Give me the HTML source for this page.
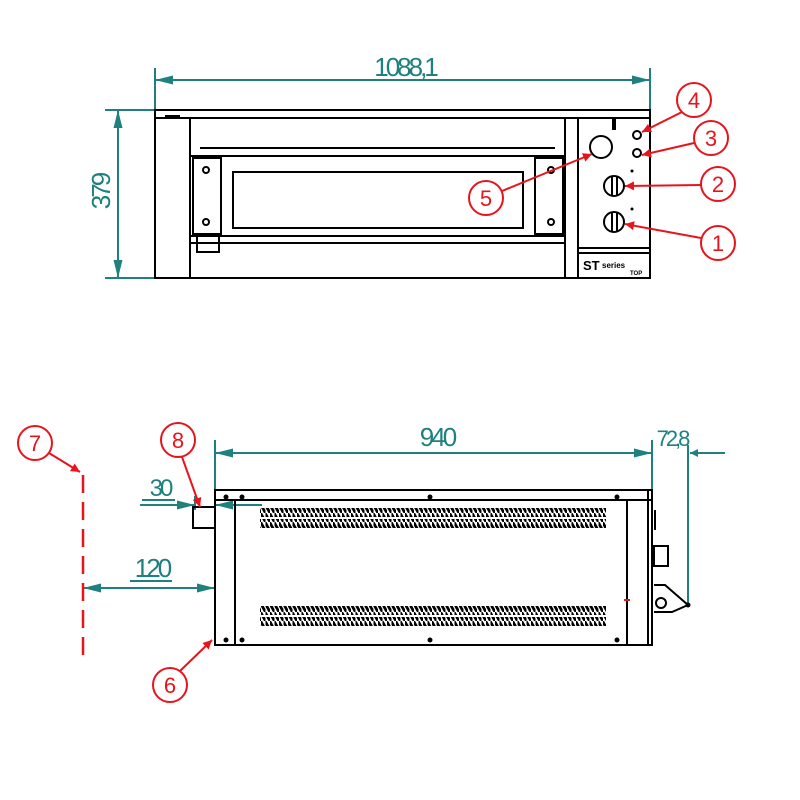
<!DOCTYPE html>
<html><head><meta charset="utf-8"><style>
html,body{margin:0;padding:0;background:#fff;}
svg{display:block}
.k{stroke:#000;fill:none;stroke-width:2}
.t{stroke:#1f8080;fill:none;stroke-width:2}
.r{stroke:#e8141c;fill:none;stroke-width:2}
.tt{fill:#1f8080;font-family:"Liberation Sans",sans-serif;letter-spacing:-3px}
.rt{fill:#e8141c;font-family:"Liberation Sans",sans-serif;font-size:22px;text-anchor:middle}
</style></head><body>
<svg width="800" height="800" viewBox="0 0 800 800">
<defs>
<marker id="at" viewBox="0 0 10 10" refX="10" refY="5" markerWidth="10" markerHeight="8" orient="auto-start-reverse" markerUnits="userSpaceOnUse"><path d="M0,0 L10,5 L0,10 z" fill="#1f8080"/></marker>
<marker id="ar" viewBox="0 0 10 10" refX="10" refY="5" markerWidth="11" markerHeight="9" orient="auto" markerUnits="userSpaceOnUse"><path d="M0,0 L10,5 L0,10 z" fill="#e8141c"/></marker>
<marker id="at2" viewBox="0 0 20 10" refX="20" refY="5" markerWidth="22" markerHeight="9" orient="auto-start-reverse" markerUnits="userSpaceOnUse"><path d="M0,0 L20,5 L0,10 z" fill="#1f8080"/></marker>
<pattern id="vent" width="4.5" height="9" patternUnits="userSpaceOnUse"><path d="M-0.5,0 L4.5,9" stroke="#000" stroke-width="2.8"/></pattern>
</defs>

<!-- TOP VIEW -->
<line class="t" x1="155" y1="68" x2="155" y2="110" stroke-width="1.5"/>
<line class="t" x1="650" y1="68" x2="650" y2="110" stroke-width="1.5"/>
<line class="t" x1="155" y1="80" x2="650" y2="80" marker-start="url(#at2)" marker-end="url(#at2)"/>
<text class="tt" x="405" y="76" font-size="26" text-anchor="middle">1088,1</text>
<line class="t" x1="105" y1="110" x2="155" y2="110" stroke-width="1.5"/>
<line class="t" x1="105" y1="278" x2="155" y2="278" stroke-width="1.5"/>
<line class="t" x1="118" y1="110" x2="118" y2="278" marker-start="url(#at2)" marker-end="url(#at2)"/>
<text class="tt" transform="translate(110,192) rotate(-90)" font-size="26" text-anchor="middle">379</text>

<rect class="k" x="155" y="110" width="495" height="168"/>
<line class="k" x1="155" y1="118" x2="650" y2="118"/>
<line class="k" x1="165" y1="116" x2="180" y2="116"/>
<line class="k" x1="190" y1="118" x2="190" y2="278"/>
<line class="k" x1="565" y1="118" x2="565" y2="278"/>
<line class="k" x1="578" y1="118" x2="578" y2="278"/>
<line class="k" x1="200" y1="148" x2="555" y2="148"/>
<rect class="k" x="190" y="156" width="375" height="80"/>
<rect class="k" x="193" y="158" width="28" height="76" stroke-width="1.5"/>
<rect class="k" x="535" y="158" width="28" height="76" stroke-width="1.5"/>
<rect class="k" x="233" y="172" width="290" height="56"/>
<circle class="k" cx="206" cy="170" r="3"/><circle class="k" cx="206" cy="222" r="3"/>
<circle class="k" cx="551" cy="170" r="3"/><circle class="k" cx="551" cy="222" r="3"/>
<line class="k" x1="190" y1="243" x2="565" y2="243"/>
<rect class="k" x="197" y="236" width="22" height="16"/>
<line class="k" x1="578" y1="248" x2="650" y2="248"/>
<line class="k" x1="578" y1="253" x2="650" y2="253" stroke-width="1"/>
<text x="583" y="270" font-family="Liberation Sans,sans-serif" font-weight="bold" font-size="13">ST</text>
<text x="602" y="268" font-family="Liberation Sans,sans-serif" font-weight="bold" font-size="8">series</text>
<text x="630" y="275" font-family="Liberation Sans,sans-serif" font-weight="bold" font-size="6">TOP</text>
<circle class="k" cx="601" cy="147" r="11"/>
<circle class="k" cx="637" cy="135" r="4"/>
<circle class="k" cx="637" cy="153" r="4"/>
<circle cx="632" cy="171" r="1.5"/><circle cx="632" cy="209" r="1.5"/>
<path d="M612,118 l4,0 l0,12 l-4,0z" fill="#000"/>
<ellipse class="k" cx="614" cy="186" rx="10" ry="10"/><line class="k" x1="612" y1="177" x2="612" y2="195" stroke-width="1.5"/><line class="k" x1="617" y1="177" x2="617" y2="195" stroke-width="1.5"/>
<ellipse class="k" cx="614" cy="222" rx="10" ry="10"/><line class="k" x1="612" y1="213" x2="612" y2="231" stroke-width="1.5"/><line class="k" x1="617" y1="213" x2="617" y2="231" stroke-width="1.5"/>

<circle class="r" cx="694" cy="100" r="17" stroke-width="1.5"/><text class="rt" x="694" y="108">4</text>
<line class="r" x1="682" y1="112" x2="642" y2="132" marker-end="url(#ar)"/>
<circle class="r" cx="711" cy="138" r="17" stroke-width="1.5"/><text class="rt" x="711" y="146">3</text>
<line class="r" x1="694" y1="143" x2="642" y2="155" marker-end="url(#ar)"/>
<circle class="r" cx="718" cy="184" r="17" stroke-width="1.5"/><text class="rt" x="718" y="192">2</text>
<line class="r" x1="701" y1="185" x2="625" y2="186" marker-end="url(#ar)" stroke-width="3"/>
<circle class="r" cx="718" cy="243" r="17" stroke-width="1.5"/><text class="rt" x="718" y="251">1</text>
<line class="r" x1="701" y1="238" x2="625" y2="224" marker-end="url(#ar)"/>
<circle class="r" cx="486" cy="198" r="17" stroke-width="1.5"/><text class="rt" x="486" y="206">5</text>
<line class="r" x1="502" y1="191" x2="592" y2="154" marker-end="url(#ar)"/>

<!-- SIDE VIEW -->
<line class="t" x1="215" y1="440" x2="215" y2="490" stroke-width="1.5"/>
<line class="t" x1="652" y1="440" x2="652" y2="490" stroke-width="1.5"/>
<line class="t" x1="215" y1="453" x2="652" y2="453" marker-start="url(#at2)" marker-end="url(#at2)"/>
<text class="tt" x="437" y="446" font-size="26" text-anchor="middle">940</text>
<line class="t" x1="725" y1="453" x2="690" y2="453" marker-end="url(#at)"/>
<text class="tt" x="672" y="446" font-size="22" text-anchor="middle">72,8</text>
<line class="t" x1="688" y1="445" x2="688" y2="605" stroke-width="1.5"/>

<line class="t" x1="140" y1="505" x2="195" y2="505" marker-end="url(#at2)"/>
<line class="t" x1="262" y1="505" x2="215" y2="505" marker-end="url(#at2)"/>
<line class="t" x1="195" y1="496" x2="195" y2="510" stroke-width="1.5"/>
<text class="tt" x="160" y="496" font-size="24" text-anchor="middle">30</text>
<line class="t" x1="142" y1="500" x2="175" y2="500" stroke-width="1.5"/>
<line class="t" x1="83" y1="588" x2="215" y2="588" marker-start="url(#at2)" marker-end="url(#at2)"/>
<text class="tt" x="152" y="577" font-size="26" text-anchor="middle">120</text>
<line class="t" x1="130" y1="581" x2="172" y2="581" stroke-width="1.5"/>

<line x1="83" y1="475" x2="83" y2="660" stroke="#e8141c" stroke-width="2.5" stroke-dasharray="18,9"/>

<rect class="k" x="215" y="490" width="437" height="155"/>
<line class="k" x1="215" y1="500" x2="652" y2="500"/>
<line class="k" x1="235" y1="500" x2="235" y2="645"/>
<line class="k" x1="627" y1="500" x2="627" y2="645"/>
<line class="k" x1="648" y1="490" x2="648" y2="645" stroke-width="1"/>
<rect class="k" x="193" y="507" width="22" height="21"/>
<g fill="#000">
<circle cx="226" cy="497" r="2.5"/><circle cx="242" cy="497" r="2.5"/><circle cx="430" cy="497" r="2.5"/><circle cx="617" cy="497" r="2.5"/>
<circle cx="226" cy="640" r="2.5"/><circle cx="242" cy="640" r="2.5"/><circle cx="430" cy="640" r="2.5"/><circle cx="617" cy="640" r="2.5"/>
</g>
<rect x="260" y="508" width="346" height="9" fill="url(#vent)"/>
<rect x="260" y="519" width="346" height="9" fill="url(#vent)"/>
<rect x="260" y="606" width="346" height="9" fill="url(#vent)"/>
<rect x="260" y="617" width="346" height="9" fill="url(#vent)"/>
<line class="k" x1="655" y1="510" x2="655" y2="530" stroke-width="3"/>
<rect class="k" x="654" y="546" width="14" height="20" stroke-width="1.5"/>
<path class="k" d="M654,585 L665,585 L688,605 L672,612 L654,612" stroke-width="1.5"/>
<circle class="k" cx="661" cy="603" r="5"/>
<circle cx="688" cy="605" r="2.5"/>
<line x1="624" y1="600" x2="630" y2="600" stroke="#e8141c" stroke-width="2"/>

<circle class="r" cx="35" cy="443" r="17" stroke-width="1.5"/><text class="rt" x="35" y="451">7</text>
<line class="r" x1="49" y1="453" x2="80" y2="472" marker-end="url(#ar)"/>
<circle class="r" cx="178" cy="440" r="17" stroke-width="1.5"/><text class="rt" x="178" y="448">8</text>
<line class="r" x1="182" y1="457" x2="200" y2="507" marker-end="url(#ar)"/>
<circle class="r" cx="170" cy="685" r="17" stroke-width="1.5"/><text class="rt" x="170" y="693">6</text>
<line class="r" x1="180" y1="671" x2="212" y2="640" marker-end="url(#ar)"/>
</svg>
</body></html>
